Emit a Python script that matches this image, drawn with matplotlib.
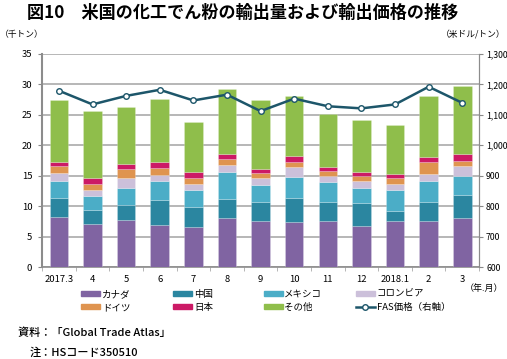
import matplotlib
matplotlib.use('Agg')
import matplotlib.pyplot as plt
from matplotlib.lines import Line2D
from matplotlib.patches import Patch
from matplotlib.ticker import FuncFormatter, MultipleLocator
import numpy as np

plt.rcParams['font.family'] = ['Noto Sans CJK JP', 'DejaVu Sans']

months = ['2017.3', '4', '5', '6', '7', '8', '9', '10', '11', '12', '2018.1', '2', '3']

# 千トン
canada = [8.2, 7.0, 7.8, 6.9, 6.5, 8.0, 7.5, 7.4, 7.5, 6.8, 7.5, 7.5, 8.1]
china = [3.1, 2.3, 2.4, 4.1, 3.3, 3.2, 3.2, 4.0, 3.2, 3.7, 1.7, 3.2, 3.8]
mexico = [2.8, 2.3, 2.8, 3.1, 2.8, 4.4, 2.7, 3.4, 3.3, 2.4, 3.4, 3.4, 3.0]
colombia = [1.4, 1.0, 1.6, 1.0, 1.0, 1.2, 1.2, 1.6, 0.9, 1.2, 1.1, 1.2, 1.7]
germany = [1.1, 1.0, 1.5, 1.2, 1.0, 1.0, 0.8, 0.9, 0.9, 0.8, 0.9, 1.9, 0.8]
japan = [0.7, 1.1, 0.8, 0.9, 1.0, 0.8, 0.7, 0.9, 0.6, 0.7, 0.7, 0.8, 1.1]
others = [10.2, 11.0, 9.3, 10.4, 8.2, 10.7, 11.3, 9.8, 8.8, 8.6, 8.1, 10.0, 11.2]

# 米ドル/トン
fas_price = [1179, 1134, 1162, 1182, 1147, 1166, 1112, 1153, 1128, 1121, 1134, 1192, 1139]

series = [
    ('カナダ', canada, '#8064a2'),
    ('中国', china, '#2b86a0'),
    ('メキシコ', mexico, '#4badc7'),
    ('コロンビア', colombia, '#ccc0da'),
    ('ドイツ', germany, '#df9450'),
    ('日本', japan, '#cc1a66'),
    ('その他', others, '#8fbe4b'),
]
line_color = '#1d566a'
grid_color = '#aaaaaa'

fig = plt.figure(figsize=(5.07, 3.59), dpi=100)
ax = fig.add_axes([0.083, 0.256, 0.862, 0.594])

x = np.arange(len(months))
bottom = np.zeros(len(months))
for name, vals, color in series:
    ax.bar(x, vals, width=0.55, bottom=bottom, color=color,
           edgecolor=(1, 1, 1, 0.35), linewidth=0.4, zorder=3)
    bottom += np.array(vals)

ax.set_ylim(0, 35)
ax.set_xlim(-0.5, len(months) - 0.5)
ax.yaxis.set_major_locator(MultipleLocator(5))
ax.grid(axis='y', color=grid_color, linewidth=1.2, zorder=0)
ax.set_xticks(x)
ax.set_xticklabels(months)
ax.set_xticks(np.arange(-0.5, len(months), 1), minor=True)
ax.tick_params(axis='x', which='major', length=0, pad=6, labelsize=6.8)
ax.tick_params(axis='x', which='minor', length=3, color=grid_color)
ax.tick_params(axis='y', length=3, color='#888888', pad=4, labelsize=6.8)
ax.spines['top'].set_visible(False)
ax.spines['left'].set_color('#8c8c8c')
ax.spines['left'].set_linewidth(1.5)
ax.spines['bottom'].set_color('#8c8c8c')
ax.spines['bottom'].set_linewidth(1.2)
ax.spines['right'].set_color('#8c8c8c')

ax2 = ax.twinx()
ax2.plot(x, fas_price, color=line_color, linewidth=1.8, marker='o',
         markersize=4, markerfacecolor='white', markeredgecolor=line_color,
         markeredgewidth=1.0, zorder=5)
ax2.set_ylim(600, 1300)
ax2.yaxis.set_major_locator(MultipleLocator(100))
ax2.yaxis.set_major_formatter(FuncFormatter(lambda v, p: '{:,.0f}'.format(v)))
ax2.tick_params(axis='y', length=3, color='#888888', pad=2, labelsize=6.3)
for s in ['top', 'left', 'bottom']:
    ax2.spines[s].set_visible(False)
ax2.spines['right'].set_color('#8c8c8c')

fig.text(0.053, 0.965, '図10\u3000米国の化工でん粉の輸出量および輸出価格の推移',
         fontsize=12.3, fontweight='bold', va='center', ha='left')
fig.text(0.0, 0.905, '（千トン）', fontsize=6.3, va='center', ha='left')
fig.text(0.998, 0.905, '（米ドル/トン）', fontsize=6.3, va='center', ha='right')
fig.text(0.992, 0.196, '（年.月）', fontsize=6.5, va='center', ha='right')

# legend: one small legend per column
handles = [Patch(color=c) for _, _, c in series]
handles.append(Line2D([], [], color=line_color, linewidth=1.8, marker='o', markersize=4,
                      markerfacecolor='white', markeredgecolor=line_color))
labels = [n for n, _, _ in series] + ['FAS価格（右軸）']
col_x = [0.160, 0.342, 0.520, 0.702]
for i in range(4):
    idx = [i, i + 4]
    hs = [handles[j] for j in idx]
    ls = [labels[j] for j in idx]
    fig.legend(hs, ls, loc='upper left', bbox_to_anchor=(col_x[i], 0.193),
               frameon=False, fontsize=6.8, handlelength=2.0, handleheight=0.45,
               handletextpad=0.2, labelspacing=0.45, borderpad=0, borderaxespad=0)

fig.text(0.035, 0.073, '資料：「Global Trade Atlas」', fontsize=8, va='center', ha='left',
         fontweight='medium')
fig.text(0.059, 0.018, '注：HSコード350510', fontsize=8, va='center', ha='left',
         fontweight='medium')

fig.savefig('out.png', dpi=100)
